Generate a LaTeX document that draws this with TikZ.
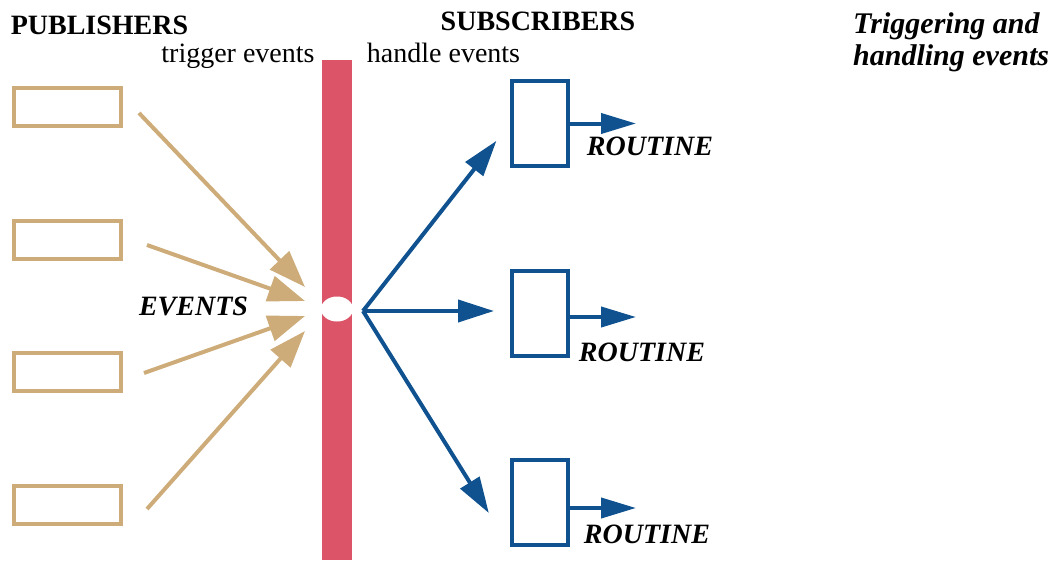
\documentclass[tikz,border=0pt]{standalone}
\usepackage{fontspec}
\setmainfont{Liberation Serif}
\usetikzlibrary{arrows.meta,positioning,calc,shapes}

\definecolor{pubtan}{HTML}{CDAC7A}
\definecolor{subblue}{HTML}{10528F}
\definecolor{barred}{HTML}{DC5468}

\begin{document}
\begin{tikzpicture}[x=1pt,y=-1pt,>=Latex,
  pub/.style={draw=pubtan,line width=4pt,minimum width=107pt,minimum height=38pt,inner sep=0pt},
  sub/.style={draw=subblue,line width=4pt,minimum width=56pt,minimum height=85pt,inner sep=0pt},
  pubarr/.style={color=pubtan,line width=4pt,-{Triangle[length=37pt,width=26pt]}},
  subarr/.style={color=subblue,line width=4pt,-{Triangle[length=36pt,width=22pt]}},
  outarr/.style={color=subblue,line width=4pt,-{Triangle[length=35pt,width=20pt]}},
  note/.style={inner sep=0pt,anchor=base,font=\fontsize{28}{32}\selectfont},
  heading/.style={note,font=\fontsize{28}{32}\selectfont\bfseries},
  tag/.style={note,font=\fontsize{28}{32}\selectfont\bfseries\itshape}]
\useasboundingbox (0,0) rectangle (1061,560);

% publishers
\node[pub] (p1) at (67.5,107) {};
\node[pub] (p2) at (67.5,239.5) {};
\node[pub] (p3) at (67.5,372) {};
\node[pub] (p4) at (67.5,505) {};

% event channel
\node[fill=barred,minimum width=30pt,minimum height=500pt,inner sep=0pt] (bar) at (337,310) {};
\node[ellipse,fill=white,minimum width=32pt,minimum height=25pt,inner sep=0pt] (hole) at (337,309) {};
\coordinate (t1) at (305,287); \coordinate (t2) at (305,301);
\coordinate (t3) at (305,316); \coordinate (t4) at (305,331);
\coordinate (hub) at (363,311);

% subscribers
\node[sub] (s1) at (540,123.5) {};
\node[sub] (s2) at (540,313) {};
\node[sub] (s3) at (540,502.5) {};
\coordinate[right=66pt of s1.east] (o1);
\coordinate[right=66pt of s2.east,yshift=-4pt] (o2);
\coordinate[right=66pt of s3.east,yshift=-5.5pt] (o3);

\draw[pubarr] ($(p1.east)+(16,6)$) -- (t1); \draw[pubarr] ($(p2.east)+(24,5.5)$) -- (t2);
\draw[pubarr] ($(p3.east)+(21,1)$) -- (t3); \draw[pubarr] ($(p4.east)+(24,4)$) -- (t4);
\draw[subarr,shorten >=22pt] (hub) -- (s1.west);
\draw[subarr,shorten >=16pt] (hub) -- ([yshift=2pt]s2.west);
\draw[subarr,shorten >=40pt] (hub) -- (s3.south west);
\draw[outarr] (s1.east) -- (o1); \draw[outarr] ([yshift=-4pt]s2.east) -- (o2); \draw[outarr] ([yshift=-5.5pt]s3.east) -- (o3);

% labels
\node[heading] (pubs) at (99.5,34) {PUBLISHERS};
\node[heading] (subs) at (538,30) {SUBSCRIBERS};
\node[note] (trig) at (238,62) {trigger events};
\node[note] (hand) at (443.5,62) {handle events};
\node[tag] (ev) at (193.5,315) {EVENTS};
\node[tag] (r1) at (650,155) {ROUTINE};
\node[tag] (r2) at (642,361) {ROUTINE};
\node[tag] (r3) at (647,543) {ROUTINE};
\node[inner sep=0pt,anchor=base west,align=left,font=\fontsize{30}{32}\selectfont\bfseries\itshape] (title) at (853,65) {Triggering and\\handling events};
\end{tikzpicture}
\end{document}
